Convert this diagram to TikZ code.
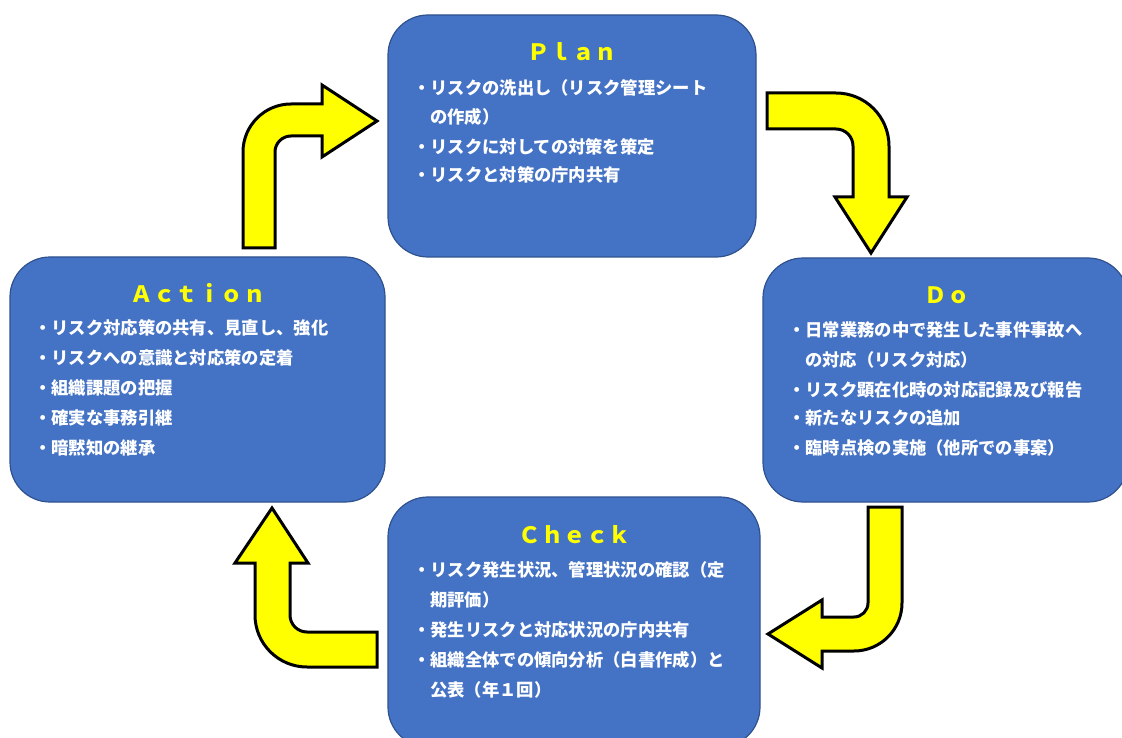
\documentclass[tikz,border=0pt]{standalone}
\usepackage{fontspec}
\newfontfamily\jp{Noto Sans CJK JP}
\definecolor{boxblue}{HTML}{4472C4}
\definecolor{boxline}{HTML}{2F528F}
\definecolor{arrowyellow}{HTML}{FFFF00}
\definecolor{titleyellow}{HTML}{FFFF00}
\tikzset{
  box/.style={draw=boxline, line width=1.2pt, fill=boxblue, rounded corners=40pt, inner sep=0pt},
  arr/.style={draw=black, line width=3pt, fill=arrowyellow, line join=miter},
  ttl/.style={text=titleyellow, font=\jp\bfseries\fontsize{22.5}{27}\selectfont, inner sep=0pt},
  txt/.style={text=white, font=\jp\bfseries\fontsize{17.3}{20}\selectfont, inner sep=0pt, anchor=west},
}
\begin{document}
\begin{tikzpicture}[x=1pt,y=-1pt]
\useasboundingbox (0,0) rectangle (1122,738);
\clip (0,0) rectangle (1122,738);
% boxes
\node[box, minimum width=368pt, minimum height=242pt] (plan) at (572,136) {};
\node[box, minimum width=365pt, minimum height=244pt] (do) at (945.5,380) {};
\node[box, minimum width=372pt, minimum height=250pt] (check) at (574,622) {};
\node[box, minimum width=375pt, minimum height=245pt] (action) at (197.5,379.5) {};
% titles
\node[ttl] (planT) at (572,52) {Ｐｌａｎ};
\node[ttl] (doT) at (947,295) {Ｄｏ};
\node[ttl] (checkT) at (575,535) {Ｃｈｅｃｋ};
\node[ttl] (actionT) at (198,293) {Ａｃｔｉｏｎ};
% plan text
\node[txt] (p1) at (413,88) {・リスクの洗出し（リスク管理シート};
\node[txt] (p2) at (430,117) {の作成）};
\node[txt] (p3) at (413,147) {・リスクに対しての対策を策定};
\node[txt] (p4) at (413,175) {・リスクと対策の庁内共有};
% do text
\node[txt] (d1) at (788,330) {・日常業務の中で発生した事件事故へ};
\node[txt] (d2) at (805,360) {の対応（リスク対応）};
\node[txt] (d3) at (788,390) {・リスク顕在化時の対応記録及び報告};
\node[txt] (d4) at (788,418) {・新たなリスクの追加};
\node[txt] (d5) at (788,448) {・臨時点検の実施（他所での事案）};
% check text
\node[txt] (c1) at (413,570) {・リスク発生状況、管理状況の確認（定};
\node[txt] (c2) at (430,600) {期評価）};
\node[txt] (c3) at (413,630) {・発生リスクと対応状況の庁内共有};
\node[txt] (c4) at (413,660) {・組織全体での傾向分析（白書作成）と};
\node[txt] (c5) at (430,690) {公表（年１回）};
% action text
\node[txt] (a1) at (34,328) {・リスク対応策の共有、見直し、強化};
\node[txt] (a2) at (34,358) {・リスクへの意識と対応策の定着};
\node[txt] (a3) at (34,388) {・組織課題の把握};
\node[txt] (a4) at (34,418) {・確実な事務引継};
\node[txt] (a5) at (34,448) {・暗黙知の継承};
% arrows
% Action -> Plan
\draw[arr] (275,248) -- (275,152) .. controls (275,143.2) and (282.2,136) .. (291,136)
  -- (322,136) -- (322,157) -- (377,121) -- (322,85) -- (322,104) -- (291,104)
  .. controls (264.5,104) and (243,125.5) .. (243,152) -- (243,248) -- cycle;
% Plan -> Do
\draw[arr] (767,93) -- (836,93) .. controls (865.3,93) and (889,116.7) .. (889,146)
  -- (889,197) -- (907,197) -- (871,253) -- (835,197) -- (853,197) -- (853,146)
  .. controls (853,136.6) and (845.4,129) .. (836,129) -- (767,129) -- cycle;
% Do -> Check
\draw[arr] (868,507) -- (902,507) -- (902,603) .. controls (902,629.5) and (880.5,651) .. (854,651)
  -- (822,651) -- (822,668) -- (768,634) -- (822,600) -- (822,617) -- (854,617)
  .. controls (861.7,617) and (868,610.7) .. (868,603) -- cycle;
% Check -> Action
\draw[arr] (377,632) -- (307,632) .. controls (297.6,632) and (290,624.4) .. (290,615)
  -- (290,563) -- (308,563) -- (272,508) -- (235,563) -- (255,563) -- (255,615)
  .. controls (255,643.7) and (278.3,667) .. (307,667) -- (377,667) -- cycle;
\end{tikzpicture}
\end{document}
